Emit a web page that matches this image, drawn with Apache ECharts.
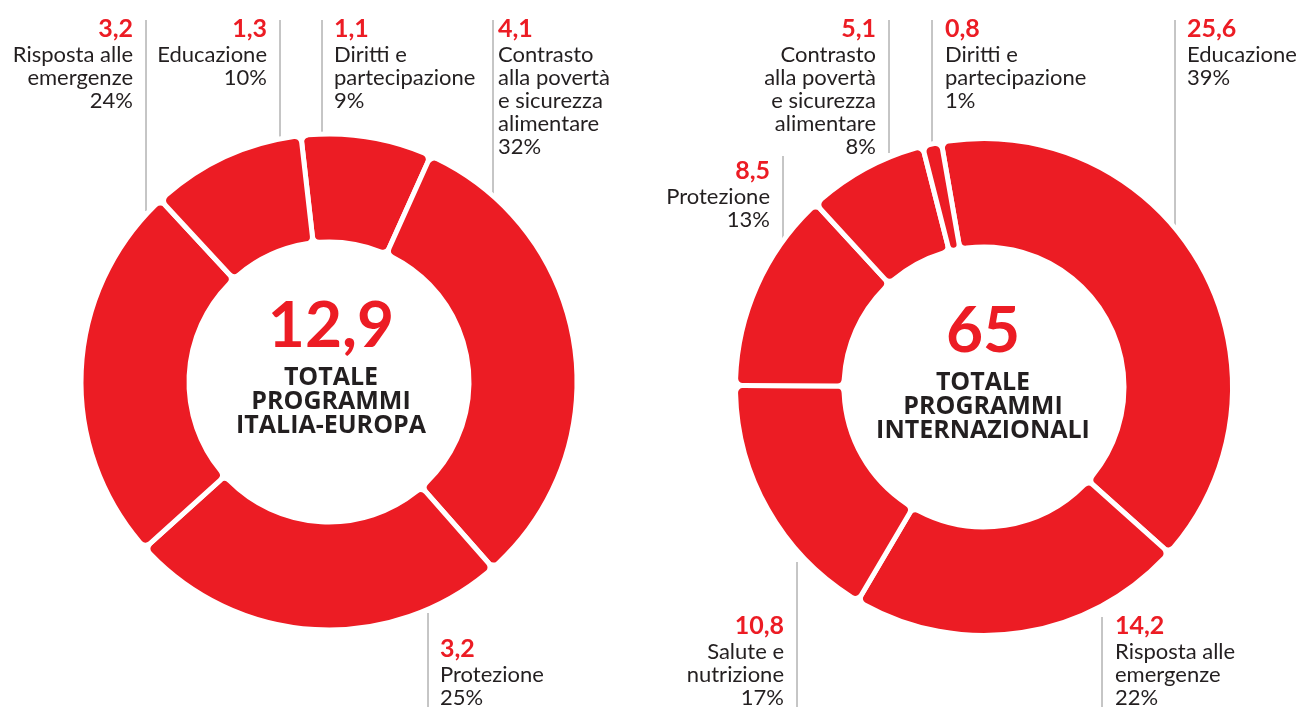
<!DOCTYPE html>
<html>
<head>
<meta charset="utf-8">
<script src="https://cdn.jsdelivr.net/npm/echarts/dist/echarts.min.js"></script>
<style>
html,body{margin:0;padding:0;background:#ffffff;}
#chart{width:1298px;height:707px;}
</style>
</head>
<body>
<div id="chart"></div>
<script>
// ---------- DATA ----------
// Left donut (clockwise from top)
const leftNames = ['Diritti e\npartecipazione', 'Contrasto\nalla povertà\ne sicurezza\nalimentare', 'Protezione', 'Risposta alle\nemergenze', 'Educazione'];
const leftValues = [1.1, 4.1, 3.2, 3.2, 1.3];
const leftPercents = [9, 32, 25, 24, 10];
const leftTitle = 'TOTALE\nPROGRAMMI\nITALIA-EUROPA';

// Right donut (clockwise from top)
const rightNames = ['Educazione', 'Risposta alle\nemergenze', 'Salute e\nnutrizione', 'Protezione', 'Contrasto\nalla povertà\ne sicurezza\nalimentare', 'Diritti e\npartecipazione'];
const rightValues = [25.6, 14.2, 10.8, 8.5, 5.1, 0.8];
const rightPercents = [39, 22, 17, 13, 8, 1];
const rightTitle = 'TOTALE\nPROGRAMMI\nINTERNAZIONALI';

// ---------- LAYOUT / STYLE ----------
const RED = '#ec1c24';
const DARK = '#231f20';
const LINE = '#8c8c8c';

const leftGeo = {cx: 329, cy: 382, r0: 140, r1: 248, startAngle: 96.5, textCx: 331};
const rightGeo = {cx: 984, cy: 387, r0: 140, r1: 248.5, startAngle: 99.9, textCx: 983};

// label placement per category (same order as data arrays)
const leftLabelLayout = [
  {side: 'top', lineX: 322, lineEnd: 133, textX: 334, align: 'left', top: 15},
  {side: 'top', lineX: 493, lineEnd: 195, textX: 498, align: 'left', top: 15},
  {side: 'bottom', lineX: 428, lineEnd: 613, textX: 440, align: 'left'},
  {side: 'top', lineX: 146, lineEnd: 211, textX: 133, align: 'right', top: 15},
  {side: 'top', lineX: 280, lineEnd: 137, textX: 267, align: 'right', top: 15}
];
const rightLabelLayout = [
  {side: 'top', lineX: 1175, lineEnd: 226, textX: 1187, align: 'left', top: 15},
  {side: 'bottom', lineX: 1102, lineEnd: 617, textX: 1115, align: 'left'},
  {side: 'bottom', lineX: 797, lineEnd: 562, textX: 784, align: 'right'},
  {side: 'top', lineX: 783, lineEnd: 240, textX: 770, align: 'right', top: 157, lineTop: 156},
  {side: 'top', lineX: 889, lineEnd: 153, textX: 876, align: 'right', top: 15},
  {side: 'top', lineX: 932, lineEnd: 143, textX: 945, align: 'left', top: 15}
];

function fmt(v) {
  const n = Number(v.toFixed(1));
  return String(n).replace('.', ',');
}

function buildLabels(names, values, percents, layout) {
  const els = [];
  names.forEach((name, i) => {
    const L = layout[i];
    const lines = ['{v|' + fmt(values[i]) + '}'];
    name.split('\n').forEach(s => lines.push('{t|' + s + '}'));
    lines.push('{t|' + percents[i] + '%}');
    const rich = {
      v: {fontFamily: 'Lato', fontWeight: 'bold', fontSize: 25, lineHeight: 28, fill: RED, align: L.align},
      t: {fontFamily: 'Lato', fontSize: 22, lineHeight: 23, fill: DARK, align: L.align}
    };
    if (L.side === 'top') {
      els.push({type: 'line', silent: true, shape: {x1: L.lineX, y1: (L.lineTop !== undefined ? L.lineTop : 20), x2: L.lineX, y2: L.lineEnd}, style: {stroke: LINE, lineWidth: 1}});
      els.push({type: 'text', silent: true, x: L.textX, y: L.top, style: {text: lines.join('\n'), rich: rich, align: L.align, verticalAlign: 'top'}});
    } else {
      els.push({type: 'line', silent: true, shape: {x1: L.lineX, y1: L.lineEnd, x2: L.lineX, y2: 707}, style: {stroke: LINE, lineWidth: 1}});
      els.push({type: 'text', silent: true, x: L.textX, y: 709, style: {text: lines.join('\n'), rich: rich, align: L.align, verticalAlign: 'bottom'}});
    }
  });
  return els;
}

function buildCenter(values, title, geo) {
  const total = values.reduce((a, b) => a + b, 0);
  return [
    {type: 'text', silent: true, x: geo.textCx, y: geo.cy - 56,
      style: {text: fmt(total), fontFamily: 'Lato', fontWeight: 'bold', fontSize: 64, fill: RED, align: 'center', verticalAlign: 'middle'}},
    {type: 'text', silent: true, x: geo.textCx, y: geo.cy + 20,
      style: {text: title, fontFamily: 'Open Sans', fontWeight: 'bold', fontSize: 25, lineHeight: 24, fill: DARK, align: 'center', verticalAlign: 'middle'}}
  ];
}

function pieSeries(names, values, geo) {
  return {
    type: 'pie',
    silent: true,
    animation: false,
    clockwise: true,
    startAngle: geo.startAngle,
    center: [geo.cx, geo.cy],
    radius: [geo.r0, geo.r1],
    label: {show: false},
    labelLine: {show: false},
    itemStyle: {color: RED, borderColor: '#ffffff', borderWidth: 5, borderRadius: 7},
    emphasis: {disabled: true},
    data: names.map((n, i) => ({name: n, value: values[i]}))
  };
}

const chart = echarts.init(document.getElementById('chart'), null, {renderer: 'canvas'});
chart.setOption({
  backgroundColor: '#ffffff',
  animation: false,
  series: [
    pieSeries(leftNames, leftValues, leftGeo),
    pieSeries(rightNames, rightValues, rightGeo)
  ],
  graphic: {
    elements: [].concat(
      buildLabels(leftNames, leftValues, leftPercents, leftLabelLayout),
      buildLabels(rightNames, rightValues, rightPercents, rightLabelLayout),
      buildCenter(leftValues, leftTitle, leftGeo),
      buildCenter(rightValues, rightTitle, rightGeo)
    )
  }
});
</script>
</body>
</html>
